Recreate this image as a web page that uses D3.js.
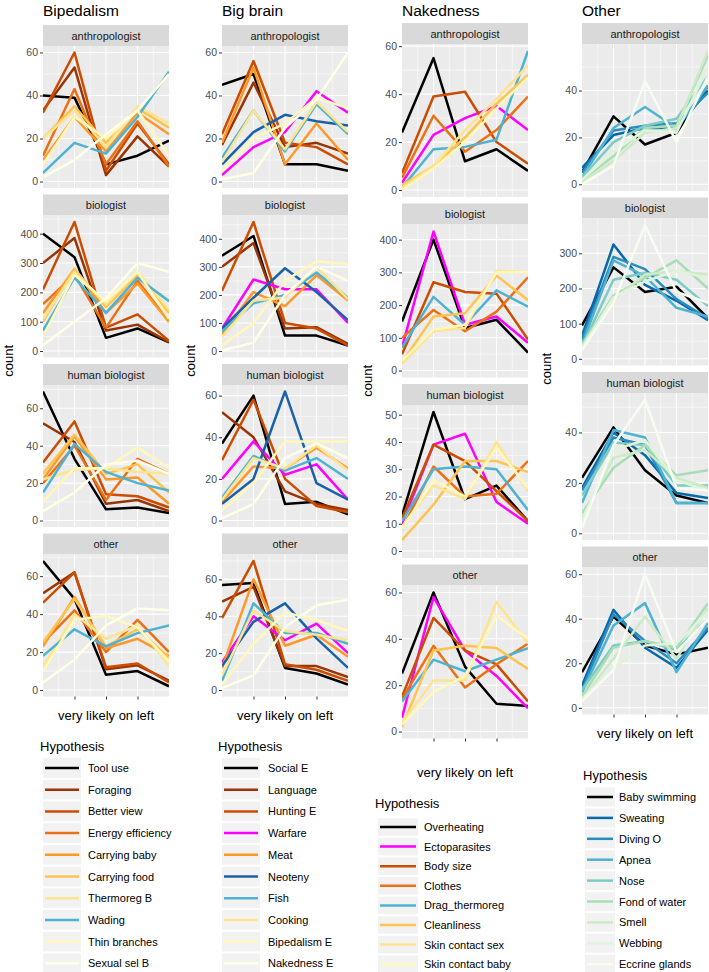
<!DOCTYPE html>
<html><head><meta charset="utf-8">
<script src="https://cdn.jsdelivr.net/npm/d3@7"></script>
<style>body{margin:0;background:#fff} svg{display:block} text{font-family:"Liberation Sans", Arial, Helvetica, sans-serif}</style>
</head><body><svg id="chart" width="709" height="972"></svg>
<script>
// ---------------- DATA ----------------
const facetNames = ["anthropologist", "biologist", "human biologist", "other"];
const columnTitles = ["Bipedalism", "Big brain", "Nakedness", "Other"];
const legendTitle = "Hypothesis";
const xAxisTitle = "very likely on left";
const yAxisTitle = "count";
const xLevels = [1, 2, 3, 4, 5];
const xTickValues = [2, 3, 4];

// Bipedalism
const bipedalismHypotheses = ["Tool use", "Foraging", "Better view", "Energy efficiency", "Carrying baby", "Carrying food", "Thermoreg B", "Wading", "Thin branches", "Sexual sel B"];
const bipedalismColors = ["#000000", "#993404", "#cc4c02", "#ec7014", "#fe9929", "#fec44f", "#fee391", "#4eb3d3", "#fff7bc", "#ffffe5"];
const bipedalismAnthropologist = [[40,39,8,12,19],[33,53,3,21,7],[32,60,5,27,8],[12,43,8,28,7],[10,30,14,32,22],[20,35,18,34,25],[20,33,16,35,27],[4,18,13,30,51],[8,30,20,33,12],[2,10,22,33,50]];
const bipedalismBiologist = [[400,320,45,77,30],[300,385,70,90,30],[210,440,80,125,35],[160,260,80,240,100],[130,280,130,230,100],[100,280,150,260,130],[110,270,160,270,140],[70,250,130,250,170],[50,260,170,270,110],[20,100,180,300,270]];
const bipedalismHumanBiologist = [[69,33,6,7,4],[52,42,9,11,5],[31,53,14,13,7],[20,40,11,33,25],[22,45,22,23,9],[25,46,25,30,15],[22,27,28,26,25],[15,41,26,20,16],[10,28,28,39,28],[5,15,30,32,25]];
const bipedalismOther = [[68,48,8,10,2],[51,62,11,13,5],[46,62,12,14,4],[25,42,20,37,20],[23,49,22,27,18],[25,48,23,32,17],[12,40,27,34,13],[18,32,23,30,34],[10,37,39,33,15],[4,16,34,43,42]];
const bipedalismTicks = [[0,20,40,60],[0,100,200,300,400],[0,20,40,60],[0,20,40,60]];

// Big brain
const bigBrainHypotheses = ["Social E", "Language", "Hunting E", "Warfare", "Meat", "Neoteny", "Fish", "Cooking", "Bipedalism E", "Nakedness E"];
const bigBrainColors = ["#000000", "#993404", "#cc4c02", "#ff00ff", "#fe9929", "#1a62a8", "#4eb3d3", "#fee391", "#fff7bc", "#ffffe5"];
const bigBrainAnthropologist = [[45,50,8,8,5],[17,46,16,18,13],[22,56,18,16,8],[3,16,23,42,32],[18,53,8,27,10],[8,23,31,28,26],[11,33,14,36,22],[9,33,15,37,23],[5,20,27,39,34],[1,4,25,38,60]];
const bigBrainBiologist = [[340,410,55,55,20],[300,385,80,85,25],[215,460,100,80,20],[80,255,220,220,100],[60,210,160,270,180],[80,190,295,210,110],[70,170,200,280,190],[50,180,190,300,185],[20,100,250,320,310],[2,30,200,300,250]];
const bigBrainHumanBiologist = [[37,60,8,9,3],[52,40,14,8,5],[29,58,20,7,4],[20,38,22,27,10],[9,26,25,35,25],[8,20,62,18,10],[11,31,24,30,20],[10,30,25,36,24],[5,18,38,38,38],[1,8,30,37,30]];
const bigBrainOther = [[57,58,12,9,3],[48,56,13,13,7],[39,70,14,11,5],[15,40,27,36,20],[12,60,24,30,18],[13,37,47,28,12],[5,47,31,31,25],[8,43,32,30,27],[3,25,42,38,32],[1,8,34,46,49]];
const bigBrainTicks = [[0,20,40,60],[0,100,200,300,400],[0,20,40,60],[0,20,40,60]];

// Nakedness
const nakednessHypotheses = ["Overheating", "Ectoparasites", "Body size", "Clothes", "Drag_thermoreg", "Cleanliness", "Skin contact sex", "Skin contact baby"];
const nakednessColors = ["#000000", "#ff00ff", "#cc4c02", "#ec7014", "#4eb3d3", "#fec44f", "#fee391", "#fff7bc"];
const nakednessAnthropologist = [[24,55,12,17,8],[3,23,30,35,25],[7,39,41,20,11],[5,31,16,25,39],[1,17,18,21,58],[2,10,22,36,48],[1,10,25,38,52],[0,9,20,34,47]];
const nakednessBiologist = [[150,400,130,155,55],[70,425,140,165,85],[50,270,240,235,95],[100,185,120,180,285],[70,225,140,245,195],[25,165,175,290,215],[20,120,130,305,300],[30,125,140,300,300]];
const nakednessHumanBiologist = [[13,51,19,24,11],[10,39,43,18,10],[12,39,33,22,11],[8,31,20,21,33],[11,30,31,30,15],[4,17,33,33,29],[9,24,19,40,22],[8,26,20,38,23]];
const nakednessOther = [[25,60,28,12,11],[6,58,35,24,10],[15,49,35,29,13],[14,37,19,29,38],[13,31,26,31,36],[2,35,37,36,27],[4,22,22,56,38],[3,17,24,50,40]];
const nakednessTicks = [[0,20,40,60],[0,100,200,300,400],[0,10,20,30,40,50],[0,20,40,60]];

// Other
const otherHypotheses = ["Baby swimming", "Sweating", "Diving O", "Apnea", "Nose", "Fond of water", "Smell", "Webbing", "Eccrine glands"];
const otherColors = ["#000000", "#0868ac", "#2b8cbe", "#4eb3d3", "#7bccc4", "#a8ddb5", "#ccebc5", "#e0f3db", "#f7fcf0"];
const otherAnthropologist = [[5,29,17,22,42],[7,21,24,24,40],[5,23,25,26,39],[3,24,33,24,42],[3,18,25,28,46],[2,12,24,25,55],[1,10,22,24,57],[2,14,23,22,50],[0,8,44,18,46]];
const otherBiologist = [[95,260,190,205,115],[65,325,210,165,110],[55,290,255,170,115],[40,280,235,145,120],[35,225,245,225,150],[40,180,230,280,200],[35,170,240,250,240],[30,175,220,250,230],[25,160,380,190,160]];
const otherHumanBiologist = [[22,42,25,15,12],[18,40,31,16,14],[17,38,35,12,12],[12,41,38,12,12],[15,36,35,19,19],[8,26,35,23,25],[6,30,33,22,18],[5,33,37,21,17],[2,35,53,18,17]];
const otherOther = [[16,41,28,24,27],[10,44,27,18,35],[8,42,30,20,36],[7,37,47,16,38],[8,28,30,26,40],[5,27,30,27,47],[4,22,41,22,45],[4,18,28,29,43],[3,17,60,25,40]];
const otherTicks = [[0,20,40],[0,100,200,300],[0,20,40],[0,20,40,60]];

// ---------------- BUILD ----------------
const columns = [
  {title: columnTitles[0], names: bipedalismHypotheses, colors: bipedalismColors,
   data: [bipedalismAnthropologist, bipedalismBiologist, bipedalismHumanBiologist, bipedalismOther], ticks: bipedalismTicks},
  {title: columnTitles[1], names: bigBrainHypotheses, colors: bigBrainColors,
   data: [bigBrainAnthropologist, bigBrainBiologist, bigBrainHumanBiologist, bigBrainOther], ticks: bigBrainTicks},
  {title: columnTitles[2], names: nakednessHypotheses, colors: nakednessColors,
   data: [nakednessAnthropologist, nakednessBiologist, nakednessHumanBiologist, nakednessOther], ticks: nakednessTicks},
  {title: columnTitles[3], names: otherHypotheses, colors: otherColors,
   data: [otherAnthropologist, otherBiologist, otherHumanBiologist, otherOther], ticks: otherTicks}
];

// layout (positions only)
const layouts = [
  {left: 43, width: 126, top: 25, stripH: 21, panelH: 142, gap: 6.5, yTitleX: 13, xTitleOff: 23,
   legTitleX: 40, legTitleY: 751, legKeyX: 43, legKeyW: 38, legTextX: 88, legFirst: 768, legStep: 21.7},
  {left: 222, width: 126, top: 25, stripH: 21, panelH: 142, gap: 6.5, yTitleX: 195, xTitleOff: 23,
   legTitleX: 218, legTitleY: 751, legKeyX: 222, legKeyW: 38, legTextX: 268, legFirst: 768, legStep: 21.7},
  {left: 402, width: 126, top: 23, stripH: 21, panelH: 153, gap: 6.5, yTitleX: 372, xTitleOff: 38,
   legTitleX: 375, legTitleY: 808, legKeyX: 378, legKeyW: 40, legTextX: 424, legFirst: 827, legStep: 19.6},
  {left: 582, width: 126, top: 23, stripH: 21, panelH: 147, gap: 6.5, yTitleX: 551, xTitleOff: 23,
   legTitleX: 583, legTitleY: 780, legKeyX: 585, legKeyW: 30, legTextX: 619, legFirst: 797, legStep: 20.9}
];

const svg = d3.select("#chart");
svg.append("rect").attr("width", 709).attr("height", 972).attr("fill", "#ffffff");

columns.forEach((col, ci) => {
  const L = layouts[ci];
  const g = svg.append("g");
  const x = d3.scaleLinear().domain([xLevels[0], xLevels[xLevels.length - 1]]).range([L.left, L.left + L.width]);

  // column title
  g.append("text").attr("x", L.left).attr("y", 15.5)
    .attr("font-size", 15.5).attr("fill", "#000").text(col.title);

  let lastBottom = 0;
  facetNames.forEach((fname, fi) => {
    const stripY = L.top + fi * (L.stripH + L.panelH + L.gap);
    const panelY = stripY + L.stripH;
    const panelB = panelY + L.panelH;
    lastBottom = panelB;
    const series = col.data[fi];
    const allVals = series.flat();
    const lo = Math.min(0, d3.min(allVals)), hi = d3.max(allVals);
    const pad = (hi - lo) * 0.05;
    const y = d3.scaleLinear().domain([lo - pad, hi + pad]).range([panelB, panelY]);

    // strip
    g.append("rect").attr("x", L.left).attr("y", stripY).attr("width", L.width).attr("height", L.stripH).attr("fill", "#d9d9d9");
    g.append("text").attr("x", L.left + L.width / 2).attr("y", stripY + L.stripH / 2 + 4)
      .attr("text-anchor", "middle").attr("font-size", 11).attr("fill", "#1a1a1a").text(fname);

    // panel
    g.append("rect").attr("x", L.left).attr("y", panelY).attr("width", L.width).attr("height", L.panelH).attr("fill", "#ebebeb");

    const ticks = col.ticks[fi];
    const step = ticks[1] - ticks[0];
    const minor = [];
    for (let t = ticks[0] - step / 2; t <= ticks[ticks.length - 1] + step; t += step) {
      if (t >= y.domain()[0] && t <= y.domain()[1]) minor.push(t);
    }
    const xMinor = [1.5, 2.5, 3.5, 4.5];
    g.selectAll(null).data(minor).enter().append("line")
      .attr("x1", L.left).attr("x2", L.left + L.width).attr("y1", d => y(d)).attr("y2", d => y(d))
      .attr("stroke", "#ffffff").attr("stroke-width", 0.55);
    g.selectAll(null).data(xMinor).enter().append("line")
      .attr("y1", panelY).attr("y2", panelB).attr("x1", d => x(d)).attr("x2", d => x(d))
      .attr("stroke", "#ffffff").attr("stroke-width", 0.55);
    g.selectAll(null).data(ticks).enter().append("line")
      .attr("x1", L.left).attr("x2", L.left + L.width).attr("y1", d => y(d)).attr("y2", d => y(d))
      .attr("stroke", "#ffffff").attr("stroke-width", 1.1);
    g.selectAll(null).data(xTickValues).enter().append("line")
      .attr("y1", panelY).attr("y2", panelB).attr("x1", d => x(d)).attr("x2", d => x(d))
      .attr("stroke", "#ffffff").attr("stroke-width", 1.1);

    // y axis
    const yAxis = d3.axisLeft(y).tickValues(ticks).tickSize(3).tickPadding(2);
    const ya = g.append("g").attr("transform", `translate(${L.left},0)`).call(yAxis);
    ya.select(".domain").remove();
    ya.selectAll(".tick line").attr("stroke", "#333333");
    ya.selectAll(".tick text").attr("fill", "#4d4d4d").attr("font-size", 10.5)
      .attr("font-family", '"Liberation Sans", Arial, sans-serif');

    // lines
    const clipId = `clip-${ci}-${fi}`;
    g.append("clipPath").attr("id", clipId).append("rect")
      .attr("x", L.left).attr("y", panelY).attr("width", L.width).attr("height", L.panelH);
    const line = d3.line().x((d, i) => x(xLevels[i])).y(d => y(d));
    g.append("g").attr("clip-path", `url(#${clipId})`)
      .selectAll("path").data(series).enter().append("path")
      .attr("d", d => line(d)).attr("fill", "none")
      .attr("stroke", (d, i) => col.colors[i]).attr("stroke-width", 2.5)
      .attr("stroke-linejoin", "round");
  });

  // x axis ticks on bottom panel
  const xAxis = d3.axisBottom(x).tickValues(xTickValues).tickSize(3).tickFormat("");
  const xa = g.append("g").attr("transform", `translate(0,${lastBottom})`).call(xAxis);
  xa.select(".domain").remove();
  xa.selectAll(".tick line").attr("stroke", "#333333");

  // x axis title
  g.append("text").attr("x", L.left + L.width / 2).attr("y", lastBottom + L.xTitleOff)
    .attr("text-anchor", "middle").attr("font-size", 13).attr("fill", "#000").text(xAxisTitle);

  // y axis title
  const midY = (L.top + lastBottom) / 2;
  g.append("text").attr("transform", `translate(${L.yTitleX},${midY}) rotate(-90)`)
    .attr("text-anchor", "middle").attr("font-size", 13).attr("fill", "#000").text(yAxisTitle);

  // legend
  g.append("text").attr("x", L.legTitleX).attr("y", L.legTitleY).attr("font-size", 13).attr("fill", "#000").text(legendTitle);
  const leg = g.selectAll(null).data(col.names).enter().append("g")
    .attr("transform", (d, i) => `translate(${L.legKeyX},${L.legFirst + i * L.legStep})`);
  leg.append("rect").attr("x", 0).attr("y", -L.legStep / 2 + 1).attr("width", L.legKeyW).attr("height", L.legStep - 2).attr("fill", "#f2f2f2");
  leg.append("line").attr("x1", 2).attr("x2", L.legKeyW - 2).attr("y1", 0).attr("y2", 0)
    .attr("stroke", (d, i) => col.colors[i]).attr("stroke-width", 2.5);
  leg.append("text").attr("x", L.legTextX - L.legKeyX).attr("y", 4).attr("font-size", 11).attr("fill", "#000").text(d => d);
});
</script></body></html>
